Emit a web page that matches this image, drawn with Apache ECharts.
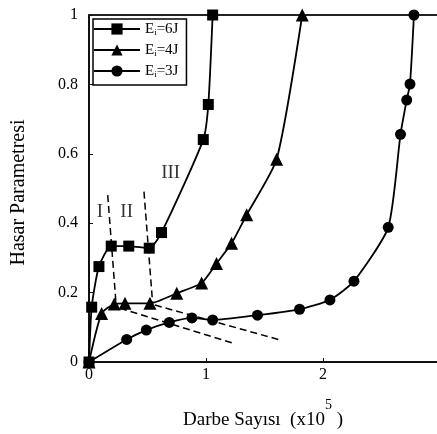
<!DOCTYPE html>
<html><head><meta charset="utf-8">
<script src="https://cdn.jsdelivr.net/npm/echarts@6/dist/echarts.min.js"></script>
<style>html,body{margin:0;padding:0;background:#fff}#c{width:437px;height:434px}</style>
</head><body><div id="c"></div>
<script>
const seriesNames = ['Ei=6J', 'Ei=4J', 'Ei=3J'];
const seriesSymbols = ['rect', 'triangle', 'circle'];
const cycles6J = [0, 0.023, 0.085, 0.19, 0.34, 0.515, 0.62, 0.977, 1.02, 1.057];
const damage6J = [0, 0.158, 0.275, 0.334, 0.334, 0.328, 0.373, 0.641, 0.742, 1.0];
const cycles4J = [0, 0.108, 0.216, 0.308, 0.521, 0.75, 0.963, 1.09, 1.219, 1.348, 1.604, 1.823];
const damage4J = [0, 0.14, 0.167, 0.169, 0.169, 0.198, 0.228, 0.284, 0.342, 0.424, 0.584, 1.0];
const cycles3J = [0, 0.322, 0.49, 0.686, 0.88, 1.057, 1.44, 1.80, 2.06, 2.265, 2.558, 2.663, 2.716, 2.744, 2.778];
const damage3J = [0, 0.065, 0.092, 0.114, 0.127, 0.121, 0.135, 0.152, 0.179, 0.233, 0.388, 0.656, 0.755, 0.801, 1.0];
// dashed region guide lines [x1, y1, x2, y2]
const guideLines = [
  [0.16, 0.481, 0.231, 0.169],
  [0.47, 0.491, 0.544, 0.169],
  [0.265, 0.155, 1.233, 0.054],
  [0.564, 0.164, 1.618, 0.065]
];
const regionLabels = ['I', 'II', 'III'];
const regionLabelX = [0.094, 0.322, 0.698];
const regionLabelY = [0.432, 0.432, 0.544];
const xTitle = 'Darbe Sayısı  (x10';
const xTitleSup = '5';
const yTitle = 'Hasar Parametresi';

const FONT = 'Liberation Serif';
const zip = (xs, ys) => xs.map((x, i) => [x, ys[i]]);
const seriesData = [zip(cycles6J, damage6J), zip(cycles4J, damage4J), zip(cycles3J, damage3J)];
const symSizes = [11, 13, 11];

const series = seriesNames.map((n, i) => ({
  name: n, type: 'line', data: seriesData[i],
  symbol: seriesSymbols[i], symbolSize: symSizes[i], showAllSymbol: true,
  smooth: 0.2,
  lineStyle: { color: '#000', width: 1.8 },
  itemStyle: { color: '#000' },
  z: 3
}));
guideLines.forEach(g => series.push({
  type: 'line', data: [[g[0], g[1]], [g[2], g[3]]], symbol: 'none', silent: true,
  lineStyle: { color: '#000', width: 1.5, type: [7, 4] }, z: 2
}));
series.push({
  type: 'scatter', symbolSize: 0, silent: true,
  data: regionLabels.map((t, i) => ({ value: [regionLabelX[i], regionLabelY[i]], name: t })),
  label: { show: true, position: 'inside', formatter: p => p.name, fontFamily: FONT, fontSize: 19, color: '#000' }
});

const chart = echarts.init(document.getElementById('c'));
chart.setOption({
  animation: false,
  backgroundColor: '#fff',
  grid: { left: 89, right: 0, top: 15, bottom: 72, outerBoundsMode: 'none', containLabel: false },
  legend: {
    data: seriesNames, orient: 'vertical', left: 93, top: 19,
    backgroundColor: '#fff', borderColor: '#000', borderWidth: 1.5, borderRadius: 0,
    padding: [2, 8, 6, 0], itemWidth: 46, itemHeight: 14, itemGap: 5,
    formatter: n => n.replace('Ei', 'E{sub|i}'),
    textStyle: { fontFamily: FONT, fontSize: 15, color: '#000', lineHeight: 16,
      rich: { sub: { fontFamily: FONT, fontSize: 9, color: '#000', verticalAlign: 'bottom', lineHeight: 16 } } }
  },
  xAxis: [{
    type: 'value', min: 0, max: 2.975, interval: 1,
    axisLine: { lineStyle: { color: '#111', width: 2 } },
    axisTick: { inside: true, length: 4, lineStyle: { color: '#111' } },
    axisLabel: { fontFamily: FONT, fontSize: 16, color: '#000', margin: 5, showMaxLabel: false },
    splitLine: { show: false },
    name: xTitle + '{sup|' + xTitleSup + '} )', nameLocation: 'middle', nameGap: 36,
    nameTextStyle: { fontFamily: FONT, fontSize: 19, color: '#000', lineHeight: 44,
      rich: { sup: { fontFamily: FONT, fontSize: 14, color: '#000', verticalAlign: 'top', lineHeight: 40 } } }
  }, {
    type: 'value', position: 'top', min: 0, max: 2.975,
    axisLine: { show: true, lineStyle: { color: '#222', width: 2 } },
    axisTick: { show: false }, axisLabel: { show: false }, splitLine: { show: false }
  }],
  yAxis: {
    type: 'value', min: 0, max: 1, interval: 0.2,
    axisLine: { show: true, lineStyle: { color: '#111', width: 2 } },
    axisTick: { show: true, inside: true, length: 4, lineStyle: { color: '#111' } },
    axisLabel: { fontFamily: FONT, fontSize: 16, color: '#000', margin: 11 },
    splitLine: { show: false },
    name: yTitle, nameLocation: 'middle', nameGap: 60, nameRotate: 90,
    nameTextStyle: { fontFamily: FONT, fontSize: 20, color: '#000', padding: [0, 8, 0, 0] }
  },
  series
});
</script></body></html>
